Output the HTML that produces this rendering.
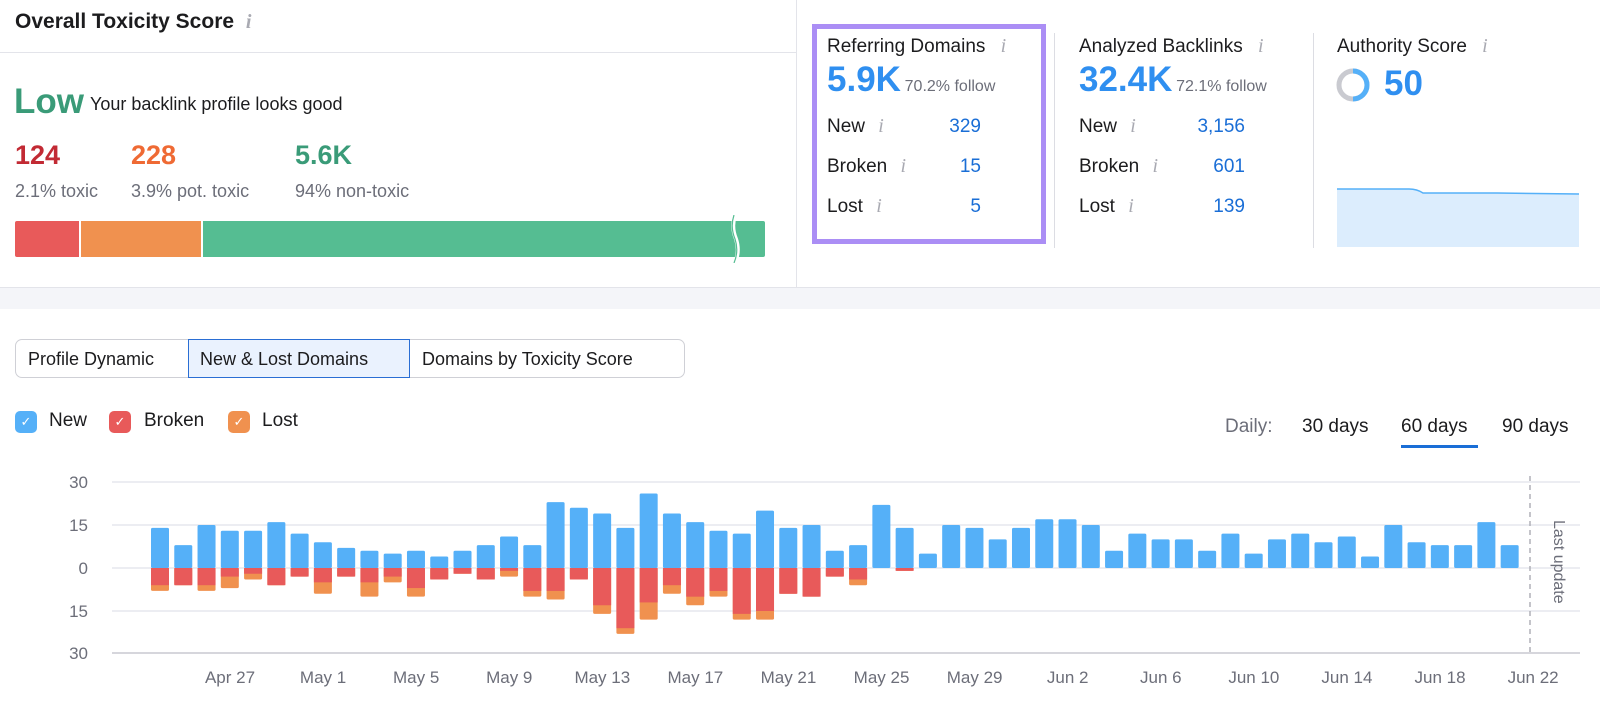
<!DOCTYPE html>
<html><head><meta charset="utf-8">
<style>
*{margin:0;padding:0;box-sizing:border-box}
body{width:1600px;height:714px;background:#fff;font-family:"Liberation Sans",Arial,sans-serif;color:#1c1c1e;position:relative;overflow:hidden}
.a{position:absolute;white-space:nowrap}
.i{font-family:"Liberation Serif",serif;font-style:italic;color:#a9aab2;font-size:20px}
.g{color:#6c6e79}
.bl{color:#1a6ed6}
</style></head><body>
<!-- top panel -->
<div class="a" style="left:0;top:52px;width:796px;height:1px;background:#e3e4ea"></div>
<div class="a" style="left:796px;top:0;width:1px;height:287px;background:#e3e4ea"></div>
<div class="a" style="left:15px;top:10px;font-size:21px;font-weight:bold">Overall Toxicity Score <span class="i" style="margin-left:6px">i</span></div>
<div class="a" style="left:14px;top:82px;font-size:35px;font-weight:bold;color:#3a9b78">Low</div>
<div class="a" style="left:90px;top:94px;font-size:18px">Your backlink profile looks good</div>
<div class="a" style="left:15px;top:140px;font-size:27px;font-weight:bold;color:#c22a34">124</div>
<div class="a" style="left:131px;top:140px;font-size:27px;font-weight:bold;color:#ef6a34">228</div>
<div class="a" style="left:295px;top:140px;font-size:27px;font-weight:bold;color:#3a9b78">5.6K</div>
<div class="a g" style="left:15px;top:181px;font-size:18px">2.1% toxic</div>
<div class="a g" style="left:131px;top:181px;font-size:18px">3.9% pot. toxic</div>
<div class="a g" style="left:295px;top:181px;font-size:18px">94% non-toxic</div>
<div class="a" style="left:15px;top:221px;width:64px;height:36px;background:#e85a5a;border-radius:2px 0 0 2px"></div>
<div class="a" style="left:81px;top:221px;width:120px;height:36px;background:#f0914f"></div>
<div class="a" style="left:203px;top:221px;width:562px;height:36px;background:#55bd92;border-radius:0 2px 2px 0"></div>
<svg class="a" style="left:728px;top:215px" width="16" height="48"><path d="M7 0 Q3 12 8 24 Q12 36 7 48" stroke="#fff" stroke-width="4" fill="none"/><path d="M7 0 Q3 12 8 24 Q12 36 7 48" stroke="#55bd92" stroke-width="1.2" fill="none" transform="translate(-1,0)"/></svg>

<!-- referring domains -->
<div class="a" style="left:812px;top:24px;width:234px;height:220px;border:5px solid #ab8ef5"></div>
<div class="a" style="left:827px;top:35px;font-size:19px">Referring Domains <span class="i" style="margin-left:10px">i</span></div>
<div class="a" style="left:827px;top:60px;font-size:35px;font-weight:bold;color:#2f8ff0">5.9K <span style="font-size:16px;font-weight:normal;color:#6c6e79;margin-left:-6px">70.2% follow</span></div>
<div class="a" style="left:827px;top:115px;font-size:19px">New <span class="i" style="margin-left:8px">i</span></div>
<div class="a" style="left:827px;top:155px;font-size:19px">Broken <span class="i" style="margin-left:8px">i</span></div>
<div class="a" style="left:827px;top:195px;font-size:19px">Lost <span class="i" style="margin-left:8px">i</span></div>
<div class="a bl" style="right:619px;top:116px;font-size:19px">329</div>
<div class="a bl" style="right:619px;top:156px;font-size:19px">15</div>
<div class="a bl" style="right:619px;top:196px;font-size:19px">5</div>
<div class="a" style="left:1054px;top:33px;width:1px;height:215px;background:#dcdde3"></div>
<div class="a" style="left:1079px;top:35px;font-size:19px">Analyzed Backlinks <span class="i" style="margin-left:10px">i</span></div>
<div class="a" style="left:1079px;top:60px;font-size:35px;font-weight:bold;color:#2f8ff0">32.4K <span style="font-size:16px;font-weight:normal;color:#6c6e79;margin-left:-6px">72.1% follow</span></div>
<div class="a" style="left:1079px;top:115px;font-size:19px">New <span class="i" style="margin-left:8px">i</span></div>
<div class="a" style="left:1079px;top:155px;font-size:19px">Broken <span class="i" style="margin-left:8px">i</span></div>
<div class="a" style="left:1079px;top:195px;font-size:19px">Lost <span class="i" style="margin-left:8px">i</span></div>
<div class="a bl" style="right:355px;top:116px;font-size:19px">3,156</div>
<div class="a bl" style="right:355px;top:156px;font-size:19px">601</div>
<div class="a bl" style="right:355px;top:196px;font-size:19px">139</div>
<div class="a" style="left:1313px;top:33px;width:1px;height:215px;background:#dcdde3"></div>
<div class="a" style="left:1337px;top:35px;font-size:19px">Authority Score <span class="i" style="margin-left:10px">i</span></div>
<svg class="a" style="left:1335px;top:67px" width="36" height="36"><circle cx="18" cy="18" r="14" fill="none" stroke="#c9cad0" stroke-width="5"/><path d="M18 4 A14 14 0 0 1 18 32" fill="none" stroke="#55b0f8" stroke-width="5"/></svg>
<div class="a" style="left:1384px;top:64px;font-size:35px;font-weight:bold;color:#2f8ff0">50</div>
<svg class="a" style="left:1337px;top:185px" width="242" height="62"><path d="M0 4 L72 4 Q80 4 86 8 L160 8 L242 9 L242 62 L0 62Z" fill="#dcedfd"/><path d="M0 4 L72 4 Q80 4 86 8 L160 8 L242 9" fill="none" stroke="#55b0f8" stroke-width="1.5"/></svg>

<!-- gray band -->
<div class="a" style="left:0;top:287px;width:1600px;height:22px;background:#f4f5f9;border-top:1px solid #e3e4ea"></div>

<!-- tabs -->
<div class="a" style="left:15px;top:339px;width:670px;height:39px;border:1px solid #cfd0d6;border-radius:7px"></div>
<div class="a" style="left:188px;top:339px;width:222px;height:39px;border:1px solid #2a6ed4;background:#eaf2fe"></div>
<div class="a" style="left:28px;top:349px;font-size:18px">Profile Dynamic</div>
<div class="a" style="left:200px;top:349px;font-size:18px">New &amp; Lost Domains</div>
<div class="a" style="left:422px;top:349px;font-size:18px">Domains by Toxicity Score</div>

<!-- legend -->
<div class="a" style="left:15px;top:411px;width:22px;height:22px;border-radius:5px;background:#55b0f8;color:#fff;font-size:13px;text-align:center;line-height:22px">✓</div>
<div class="a" style="left:49px;top:410px;font-size:19px">New</div>
<div class="a" style="left:109px;top:411px;width:22px;height:22px;border-radius:5px;background:#e85a5a;color:#fff;font-size:13px;text-align:center;line-height:22px">✓</div>
<div class="a" style="left:144px;top:410px;font-size:19px">Broken</div>
<div class="a" style="left:228px;top:411px;width:22px;height:22px;border-radius:5px;background:#f0914f;color:#fff;font-size:13px;text-align:center;line-height:22px">✓</div>
<div class="a" style="left:262px;top:410px;font-size:19px">Lost</div>

<div class="a g" style="left:1225px;top:416px;font-size:19px">Daily:</div>
<div class="a" style="left:1302px;top:416px;font-size:19px">30 days</div>
<div class="a" style="left:1401px;top:416px;font-size:19px">60 days</div>
<div class="a" style="left:1502px;top:416px;font-size:19px">90 days</div>
<div class="a" style="left:1401px;top:445px;width:77px;height:3px;background:#1a6ed6"></div>

<svg id="ch" class="a" style="left:0;top:0" width="1600" height="714"></svg>
<script>
var n=[14,8,15,13,13,16,12,9,7,6,5,6,4,6,8,11,8,23,21,19,14,26,19,16,13,12,20,14,15,6,8,22,14,5,15,14,10,14,17,17,15,6,12,10,10,6,12,5,10,12,9,11,4,15,9,8,8,16,8];
var r=[6,6,6,3,2,6,3,5,3,5,3,7,4,2,4,1,8,8,4,13,21,12,6,10,8,16,15,9,10,3,4,0,1];
var t=[8,6,8,7,4,6,3,9,3,10,5,10,4,2,4,3,10,11,4,16,23,18,9,13,10,18,18,9,10,3,6,0,1];
var s='',k=43/15,z=568;
[482,525,568,611,653].forEach(function(y,j){s+='<line x1="112" x2="1580" y1="'+y+'" y2="'+y+'" stroke="'+(j==4?'#c8c9d0':'#e6e7ee')+'" stroke-width="1.5"/>';
s+='<text x="88" y="'+(y+6)+'" text-anchor="end" font-size="17" fill="#6c6e79" font-family="Liberation Sans">'+['30','15','0','15','30'][j]+'</text>';});
for(var i=0;i<n.length;i++){var x=151+i*23.27;
s+='<rect x="'+x+'" y="'+(z-n[i]*k)+'" width="18" height="'+(n[i]*k)+'" rx="1.5" fill="#55b0f8"/>';
if(t[i]){s+='<rect x="'+x+'" y="'+z+'" width="18" height="'+(t[i]*k)+'" rx="1.5" fill="#f0914f"/>';
s+='<rect x="'+x+'" y="'+z+'" width="18" height="'+(r[i]*k)+'" fill="#e85a5a"/>';}}
var L=['Apr 27','May 1','May 5','May 9','May 13','May 17','May 21','May 25','May 29','Jun 2','Jun 6','Jun 10','Jun 14','Jun 18','Jun 22'];
L.forEach(function(l,j){s+='<text x="'+(230+j*4*23.27)+'" y="683" text-anchor="middle" font-size="17" fill="#6c6e79" font-family="Liberation Sans">'+l+'</text>';});
s+='<line x1="1530" x2="1530" y1="476" y2="653" stroke="#b0b1b8" stroke-width="1.5" stroke-dasharray="5,4"/>';
s+='<text transform="translate(1554,520) rotate(90)" font-size="16" fill="#6c6e79" font-family="Liberation Sans">Last update</text>';
document.getElementById('ch').innerHTML=s;
</script>
</body></html>
